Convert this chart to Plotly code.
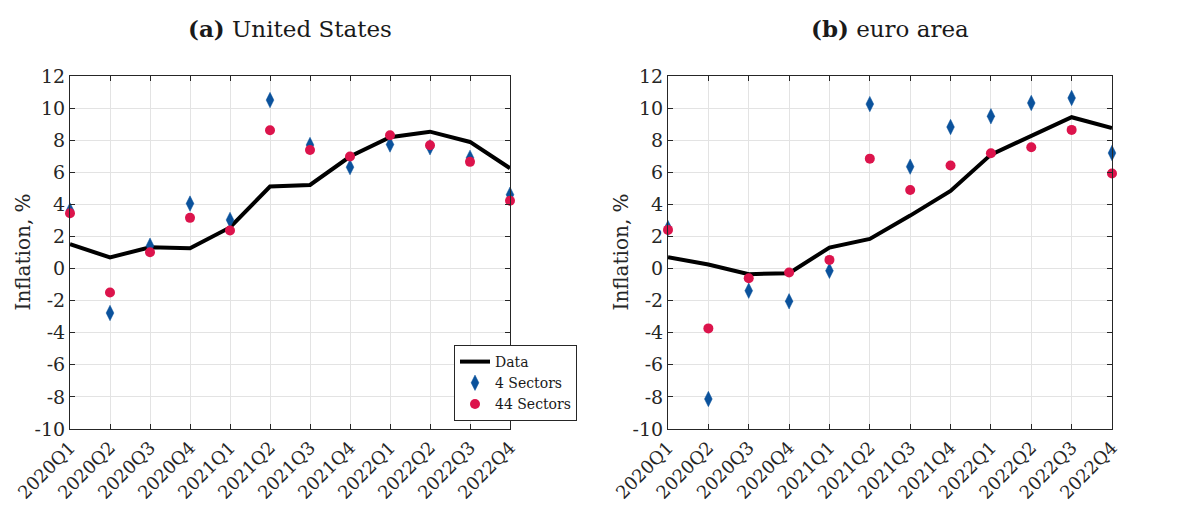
import plotly.graph_objects as go

quarters = ["2020Q1", "2020Q2", "2020Q3", "2020Q4", "2021Q1", "2021Q2",
            "2021Q3", "2021Q4", "2022Q1", "2022Q2", "2022Q3", "2022Q4"]

us_data = [1.52, 0.69, 1.33, 1.27, 2.56, 5.11, 5.21, 6.98, 8.18, 8.53, 7.89, 6.25]
us_4 = [3.62, -2.77, 1.42, 4.05, 3.03, 10.5, 7.7, 6.32, 7.73, 7.56, 6.9, 4.6]
us_44 = [3.45, -1.49, 1.02, 3.16, 2.37, 8.62, 7.39, 6.98, 8.31, 7.68, 6.65, 4.22]

ea_data = [0.71, 0.25, -0.35, -0.29, 1.31, 1.85, 3.3, 4.84, 7.1, 8.27, 9.43, 8.76]
ea_4 = [2.52, -8.13, -1.38, -2.04, -0.14, 10.25, 6.35, 8.82, 9.49, 10.32, 10.63, 7.2]
ea_44 = [2.41, -3.73, -0.6, -0.25, 0.54, 6.85, 4.9, 6.42, 7.19, 7.56, 8.64, 5.92]

y_ticks = [-10, -8, -6, -4, -2, 0, 2, 4, 6, 8, 10, 12]
y_ticktext = ["-10", "-8", "-6", "-4", "-2", "0", "2", "4", "6", "8", "10", "12"]

titles = ["<b>(a)</b> United States", "<b>(b)</b> euro area"]
y_title = "Inflation, %"

FONT = "DejaVu Serif, Liberation Serif, serif"
BLUE = "#0b529c"
RED = "#dc144c"
TXT = "#262626"

xpos = list(range(len(quarters)))

fig = go.Figure()

panels = [(us_data, us_4, us_44), (ea_data, ea_4, ea_44)]
for i, (d, s4, s44) in enumerate(panels):
    xa = "x" if i == 0 else "x2"
    ya = "y" if i == 0 else "y2"
    show = i == 0
    fig.add_trace(go.Scatter(x=xpos, y=d, mode="lines", name="Data",
                             line=dict(color="black", width=4),
                             xaxis=xa, yaxis=ya, showlegend=show,
                             legendgroup="d"))
    fig.add_trace(go.Scatter(x=xpos, y=s4, mode="markers", name="4 Sectors",
                             marker=dict(symbol="diamond-tall", color=BLUE, size=11,
                                         line=dict(width=0.5, color=BLUE)),
                             cliponaxis=False,
                             xaxis=xa, yaxis=ya, showlegend=show,
                             legendgroup="s4"))
    fig.add_trace(go.Scatter(x=xpos, y=s44, mode="markers", name="44 Sectors",
                             marker=dict(symbol="circle", color=RED, size=10,
                                         line=dict(width=0)),
                             cliponaxis=False,
                             xaxis=xa, yaxis=ya, showlegend=show,
                             legendgroup="s44"))

axis_common = dict(showline=True, linecolor=TXT, linewidth=1, mirror="ticks",
                   ticks="inside", ticklen=5, tickcolor=TXT, automargin=False,
                   showgrid=True, gridcolor="#e3e3e3", gridwidth=1,
                   zeroline=False, tickfont=dict(family=FONT, size=19, color=TXT))

xdoms = [[70 / 1196, 510 / 1196], [668 / 1196, 1112 / 1196]]
ydom = [1 - 429 / 506, 1 - 76 / 506]

layout_axes = {}
for i in range(2):
    sfx = "" if i == 0 else "2"
    layout_axes["xaxis" + sfx] = dict(axis_common, domain=xdoms[i], range=[0, 11],
                                      tickvals=xpos, ticktext=quarters, tickangle=-45,
                                      anchor="y" + sfx,
                                      tickfont=dict(family=FONT, size=18, color=TXT))
    layout_axes["yaxis" + sfx] = dict(axis_common, domain=ydom, range=[-10, 12],
                                      tickvals=y_ticks, ticktext=y_ticktext,
                                      anchor="x" + sfx)

fig.update_layout(**layout_axes)

annotations = []
for i in range(2):
    cx = (xdoms[i][0] + xdoms[i][1]) / 2
    annotations.append(dict(text=titles[i], x=cx, y=1 - 28 / 506, xref="paper", yref="paper",
                            xanchor="center", yanchor="middle", showarrow=False,
                            font=dict(family=FONT, size=23, color="#1a1a1a")))
    annotations.append(dict(text=y_title, x=xdoms[i][0] - 48 / 1196, y=(ydom[0] + ydom[1]) / 2,
                            xref="paper", yref="paper", xanchor="center", yanchor="middle",
                            textangle=-90, showarrow=False,
                            font=dict(family=FONT, size=20, color=TXT)))

fig.update_layout(
    width=1196, height=506,
    margin=dict(l=0, r=0, t=0, b=0, autoexpand=False),
    paper_bgcolor="white", plot_bgcolor="white",
    annotations=annotations,
    legend=dict(x=577 / 1196, y=1 - 421 / 506, xanchor="right", yanchor="bottom",
                bgcolor="white", bordercolor=TXT, borderwidth=1,
                font=dict(family=FONT, size=14, color="#1a1a1a"),
                tracegroupgap=0, itemwidth=30),
    showlegend=True,
)

fig.write_html("out.html")
